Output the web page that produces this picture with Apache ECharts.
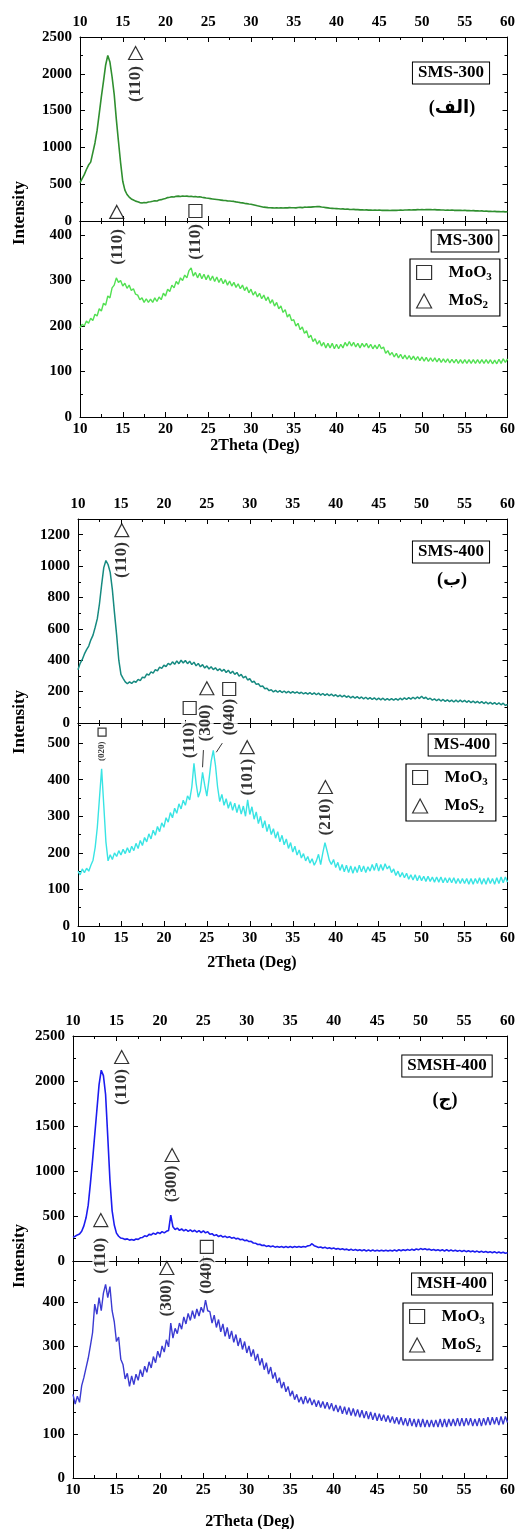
<!DOCTYPE html>
<html><head><meta charset="utf-8">
<script src="https://cdn.jsdelivr.net/npm/echarts@6/dist/echarts.min.js"></script>
<style>html,body{margin:0;padding:0;background:#fff}#c{width:518px;height:1529px}</style>
</head><body><div id="c"></div>
<script>
// ---------- DATA (2Theta from 10 to 60 deg, 0.25 deg step) ----------
const X_MIN = 10, X_MAX = 60;
const xTickLabels = [10,15,20,25,30,35,40,45,50,55,60];

const sms300 = [
520,575,630,700,760,800,930,1060,1230,1460,1690,1900,2120,2250,2160,1960,1720,1380,1080,790,
540,420,360,325,300,285,270,262,250,245,252,248,258,262,268,275,272,285,290,300,
305,318,322,330,326,335,338,332,340,336,338,332,336,330,334,326,330,322,318,312,
308,304,300,296,292,288,284,280,278,274,272,268,266,260,255,250,246,240,236,230,
228,222,214,206,200,194,188,185,182,180,178,176,180,177,181,176,180,178,182,179,
181,178,183,185,182,188,186,190,188,192,194,197,195,190,186,182,178,174,172,170,
168,166,163,165,160,162,158,156,158,154,155,151,153,150,151,148,150,147,149,146,
148,145,147,144,146,143,146,144,145,146,148,147,150,149,151,150,152,151,154,152,
155,153,157,155,156,153,155,151,152,149,150,147,149,146,148,145,147,144,146,143,
145,141,143,139,141,137,139,135,137,133,135,131,133,129,131,127,129,125,127,124,
125];

const ms300 = [
196,204,200,211,206,217,212,226,222,238,233,250,246,266,262,284,290,306,296,300,
288,294,283,290,278,282,270,268,258,262,252,260,252,259,252,262,254,264,258,272,
266,281,276,290,284,298,292,306,300,312,306,322,328,310,318,306,316,304,314,302,
312,300,310,298,308,296,305,293,302,290,299,288,296,285,293,282,290,278,286,273,
281,268,276,264,272,260,268,256,264,250,258,244,252,238,244,230,236,220,226,212,
214,200,206,192,198,184,190,174,180,166,172,160,168,156,164,152,162,152,162,150,
160,150,160,152,164,156,166,156,164,154,162,152,162,154,162,152,160,150,158,150,
160,150,154,140,146,136,142,132,140,130,138,128,136,127,135,126,134,125,133,124,
132,123,131,122,130,122,130,121,129,120,128,120,128,119,127,119,127,118,126,118,
126,118,126,118,126,118,126,118,126,118,126,118,126,117,125,117,127,118,128,120,
128];

const sms400 = [
340,380,405,440,468,490,530,560,610,665,760,880,990,1035,1010,960,850,700,560,400,
310,285,262,250,262,252,266,260,278,270,292,288,312,305,326,318,340,332,356,348,
368,360,380,370,390,374,396,378,400,382,398,378,394,372,388,364,380,358,372,350,
364,344,358,340,352,334,346,330,342,322,336,316,330,310,322,298,310,288,298,274,
282,260,266,246,250,232,236,218,222,206,212,198,208,196,206,194,204,192,202,190,
200,190,198,188,196,186,194,184,194,182,192,180,190,178,188,176,186,174,184,172,
180,168,178,166,176,164,172,160,170,158,168,156,166,154,164,152,162,150,160,148,
158,148,158,146,156,146,156,146,156,146,158,148,160,150,162,152,164,154,166,156,
170,156,164,150,158,146,154,142,152,140,150,138,148,136,146,134,146,134,146,134,
144,132,142,130,140,128,138,126,136,124,134,122,132,120,130,118,128,116,126,112,
118];

const ms400 = [
150,140,156,146,158,150,166,180,215,270,350,430,330,230,178,195,182,200,190,206,
194,210,198,214,200,218,206,226,212,234,220,242,230,252,238,262,248,272,258,282,
270,296,284,310,296,322,308,334,320,344,330,356,345,380,445,390,352,370,420,385,
355,400,450,480,440,380,340,360,330,348,322,340,316,336,310,332,306,328,300,345,
305,326,292,312,280,300,268,288,258,278,250,266,240,258,230,248,222,238,212,228,
202,218,194,208,186,198,178,190,172,184,166,178,196,168,200,228,205,180,168,182,
160,174,152,168,148,166,146,164,144,162,146,166,148,164,146,162,150,168,152,172,
150,168,152,170,156,164,146,156,138,150,134,146,132,144,128,140,126,140,124,138,
124,136,122,136,122,134,120,134,120,134,118,132,118,132,118,132,116,130,116,130,
116,130,114,130,114,130,116,132,114,130,114,132,116,130,114,132,116,134,118,134,
120];

const smsh400 = [
262,275,290,300,330,390,480,620,860,1120,1400,1680,1960,2120,2060,1850,1380,900,560,400,
310,275,255,250,240,246,232,240,230,244,240,258,262,280,272,296,290,310,296,318,
305,326,312,330,340,510,380,350,366,340,356,334,350,330,346,326,342,320,338,316,
334,312,326,296,304,282,292,272,284,266,276,260,270,254,262,246,252,236,242,226,
232,216,218,200,198,184,186,172,176,162,170,158,166,154,162,152,160,150,160,150,
160,150,160,152,162,152,162,156,168,172,192,170,160,150,156,144,152,140,148,136,
144,132,140,128,136,124,132,120,130,118,128,116,126,114,124,112,122,112,122,110,
120,110,120,110,120,110,120,112,122,112,124,114,126,116,128,118,130,120,134,124,
138,128,136,124,132,120,128,116,126,114,124,112,124,112,122,110,120,108,118,106,
116,104,114,102,112,100,110,98,108,96,106,94,104,92,102,90,100,88,98,86,
92];

const msh400 = [
190,168,186,172,210,228,250,272,300,330,395,372,410,380,420,440,410,435,380,355,
310,320,270,258,225,238,208,232,212,236,222,246,230,254,240,264,250,276,262,288,
274,300,286,314,298,352,318,340,328,352,338,366,350,374,358,380,362,384,368,388,
376,404,380,378,352,370,342,360,332,350,322,342,316,334,308,326,300,318,292,310,
284,300,276,292,266,282,256,272,246,262,236,252,226,240,216,228,204,218,196,208,
186,198,178,190,172,184,168,186,170,182,166,178,162,176,160,174,158,172,156,170,
152,166,150,164,146,162,144,160,142,158,140,156,138,154,136,152,134,150,132,148,
130,146,130,144,128,142,126,140,124,138,122,138,120,136,118,136,118,134,116,134,
116,134,116,132,116,132,116,132,116,134,116,134,116,134,118,134,118,136,118,136,
118,136,120,136,118,134,118,136,118,136,120,138,120,138,122,138,120,140,122,140,
126];

// peak annotations: [2theta, intensity, text]
const tri_SMS300 = [[16.5, 2283]];
const sq_SMS300  = [];
const txt_SMS300 = [[16.5, 1861, '(110)']];

const tri_MS300 = [[14.3, 451]];
const sq_MS300  = [[23.5, 453]];
const txt_MS300 = [[14.4, 374, '(110)'], [23.5, 385, '(110)']];

const tri_SMS400 = [[15.1, 1229]];
const sq_SMS400  = [];
const txt_SMS400 = [[15.1, 1038, '(110)']];

const tri_MS400 = [[25.0, 650], [29.7, 489], [38.8, 380]];
const sq_MS400  = [[12.8, 530, 'small'], [23.0, 596], [27.6, 648]];
const txt_MS400 = [[12.8, 478, '(020)', 'small'], [23.0, 508, '(110)'], [24.8, 555, '(300)'],
                   [27.6, 571, '(040)'], [29.7, 407, '(101)'], [38.8, 298, '(210)']];
const lead_MS400 = [[[24.6, 481], [24.5, 434]], [[26.8, 500], [26.1, 475]]];

const tri_SMSH400 = [[15.6, 2267], [21.4, 1178]];
const sq_SMSH400  = [];
const txt_SMSH400 = [[15.6, 1933, '(110)'], [21.4, 856, '(300)']];

const tri_MSH400 = [[13.2, 586], [20.8, 477]];
const sq_MSH400  = [[25.4, 525]];
const txt_MSH400 = [[13.2, 505, '(110)'], [20.8, 409, '(300)'], [25.4, 460, '(040)']];

// ---------- LAYOUT / STYLE ----------
const FONT = '"Liberation Serif", "Times New Roman", serif';
const grids = [
  {left: 80, top: 37,   width: 431, height: 184},
  {left: 80, top: 221,  width: 431, height: 196},
  {left: 78, top: 519,  width: 432, height: 204},
  {left: 78, top: 723,  width: 432, height: 203},
  {left: 73, top: 1036, width: 435, height: 225},
  {left: 73, top: 1261, width: 435, height: 217}
];
const plots = [
  {data: sms300,  color: '#2f8f2f', w: 1.6, yMax: 2500, yInt: 500, tri: tri_SMS300,  sq: sq_SMS300,  txt: txt_SMS300,  top: true},
  {data: ms300,   color: '#52e052', w: 1.4, yMax: 431,  yInt: 100, tri: tri_MS300,   sq: sq_MS300,   txt: txt_MS300,   top: false},
  {data: sms400,  color: '#168a80', w: 1.5, yMax: 1300, yInt: 200, tri: tri_SMS400,  sq: sq_SMS400,  txt: txt_SMS400,  top: true},
  {data: ms400,   color: '#38e4e4', w: 1.4, yMax: 555,  yInt: 100, tri: tri_MS400,   sq: sq_MS400,   txt: txt_MS400,   top: false, lead: lead_MS400},
  {data: smsh400, color: '#1c1cf0', w: 1.6, yMax: 2500, yInt: 500, tri: tri_SMSH400, sq: sq_SMSH400, txt: txt_SMSH400, top: true},
  {data: msh400,  color: '#3a3ad2', w: 1.4, yMax: 493,  yInt: 100, tri: tri_MSH400,  sq: sq_MSH400,  txt: txt_MSH400,  top: false}
];

const tickBase = {
  axisLine: {show: true, onZero: false, lineStyle: {color: '#000', width: 1}},
  axisTick: {show: true, inside: true, length: 5, lineStyle: {color: '#000', width: 1}},
  minorTick: {show: true, splitNumber: 2, length: 3, lineStyle: {color: '#000', width: 1}},
  splitLine: {show: false}
};
const lblStyle = {color: '#000', fontFamily: FONT, fontWeight: 'bold', fontSize: 15, formatter: v => String(v)};

const xAxes = [], yAxes = [], series = [];
plots.forEach((p, gi) => {
  xAxes.push(Object.assign({type: 'value', gridIndex: gi, position: 'bottom', min: X_MIN, max: X_MAX, interval: 5,
    axisLabel: Object.assign({show: !p.top, margin: 5}, lblStyle)}, tickBase));
  xAxes.push(Object.assign({type: 'value', gridIndex: gi, position: 'top', min: X_MIN, max: X_MAX, interval: 5,
    axisLabel: Object.assign({show: p.top, margin: 7}, lblStyle)}, tickBase));
  yAxes.push(Object.assign({type: 'value', gridIndex: gi, position: 'left', min: 0, max: p.yMax, interval: p.yInt,
    axisLabel: Object.assign({show: true, margin: 8, showMaxLabel: p.yMax % p.yInt === 0, showMinLabel: true}, lblStyle)}, tickBase));
  yAxes.push(Object.assign({type: 'value', gridIndex: gi, position: 'right', min: 0, max: p.yMax, interval: p.yInt,
    axisLabel: {show: false}}, tickBase));

  const n = p.data.length;
  series.push({
    type: 'line', xAxisIndex: gi * 2, yAxisIndex: gi * 2, animation: false, silent: true,
    data: p.data.map((v, i) => [X_MIN + i * (X_MAX - X_MIN) / (n - 1), v]),
    symbol: 'none', showSymbol: false, clip: true,
    lineStyle: {color: p.color, width: p.w}, itemStyle: {color: p.color}, z: 3
  });
  const markStyle = {color: '#fff', borderColor: '#000', borderWidth: 1.2};
  series.push({
    type: 'scatter', name: 'MoS2', xAxisIndex: gi * 2, yAxisIndex: gi * 2, animation: false, silent: true, clip: false,
    symbol: 'triangle', symbolSize: [14, 13], itemStyle: markStyle, z: 6,
    data: p.tri.map(t => [t[0], t[1]])
  });
  series.push({
    type: 'scatter', name: 'MoO3', xAxisIndex: gi * 2, yAxisIndex: gi * 2, animation: false, silent: true, clip: false,
    symbol: 'rect', symbolSize: 13, itemStyle: markStyle, z: 6,
    data: p.sq.map(t => ({value: [t[0], t[1]], symbolSize: t[2] === 'small' ? 8 : 13}))
  });
  series.push({
    type: 'scatter', xAxisIndex: gi * 2, yAxisIndex: gi * 2, animation: false, silent: true, clip: false,
    symbol: 'circle', symbolSize: 1, itemStyle: {color: 'rgba(0,0,0,0)'}, z: 5,
    label: {show: true, position: 'inside', rotate: 90, formatter: '{b}', color: '#000',
            fontFamily: FONT, fontWeight: 'bold', fontSize: 17, backgroundColor: '#fff', padding: [0, 1]},
    data: p.txt.map(t => ({value: [t[0], t[1]], name: t[2],
      label: t[3] === 'small' ? {fontSize: 9} : undefined}))
  });
  if (p.lead) {
    p.lead.forEach(seg => series.push({
      type: 'line', xAxisIndex: gi * 2, yAxisIndex: gi * 2, animation: false, silent: true, clip: false,
      symbol: 'none', data: seg, lineStyle: {color: '#000', width: 0.8}, z: 6
    }));
  }
});

function legendAt(left, top) {
  return {
    left, top, orient: 'vertical', selectedMode: false,
    data: [{name: 'MoO3', icon: 'rect'}, {name: 'MoS2', icon: 'triangle'}],
    itemWidth: 15, itemHeight: 14, itemGap: 10, padding: [5, 8, 5, 6],
    borderColor: '#000', borderWidth: 1.2, backgroundColor: '#fff',
    itemStyle: {color: '#fff', borderColor: '#000', borderWidth: 1.2},
    formatter: n => n === 'MoO3' ? '{m|MoO}{s|3}' : '{m|MoS}{s|2}',
    textStyle: {rich: {
      m: {fontFamily: FONT, fontWeight: 'bold', fontSize: 17, color: '#000', lineHeight: 20, padding: [0, 0, 0, 12], verticalAlign: 'middle'},
      s: {fontFamily: FONT, fontWeight: 'bold', fontSize: 11, color: '#000', lineHeight: 20, verticalAlign: 'bottom', padding: [6, 0, 0, 0]}
    }}
  };
}

function txt(x, y, text, size, opts) {
  return Object.assign({type: 'text', x, y, silent: true, z: 10,
    style: Object.assign({text, fill: '#000', align: 'center', verticalAlign: 'middle',
      font: 'bold ' + size + 'px ' + FONT}, (opts && opts.style) || {})}, (opts && opts.el) || {});
}
const boxStyle = {style: {borderColor: '#000', borderWidth: 1, padding: [3, 5, 1, 5], backgroundColor: '#fff'}};
const rot = {el: {rotation: Math.PI / 2}};
const arab = {style: {font: 'bold 18px "Liberation Serif", "DejaVu Sans", sans-serif'}};

const graphics = [
  txt(20, 213, 'Intensity', 17, rot),
  txt(255, 446, '2Theta (Deg)', 16),
  txt(451, 73, 'SMS-300', 17, boxStyle),
  txt(452, 108, '(الف)', 18, arab),
  txt(465, 241, 'MS-300', 17, boxStyle),

  txt(20, 722, 'Intensity', 17, rot),
  txt(252, 963, '2Theta (Deg)', 16),
  txt(451, 552, 'SMS-400', 17, boxStyle),
  txt(452, 580, '(ب)', 18, arab),
  txt(462, 745, 'MS-400', 17, boxStyle),

  txt(20, 1256, 'Intensity', 17, rot),
  txt(250, 1522, '2Theta (Deg)', 16),
  txt(447, 1066, 'SMSH-400', 17, boxStyle),
  txt(445, 1100, '(ج)', 18, arab),
  txt(452, 1284, 'MSH-400', 17, boxStyle)
];

const chart = echarts.init(document.getElementById('c'), null, {renderer: 'canvas'});
chart.setOption({
  backgroundColor: '#fff',
  animation: false,
  grid: grids,
  xAxis: xAxes,
  yAxis: yAxes,
  series,
  legend: [legendAt(410, 259), legendAt(406, 764), legendAt(403, 1303)],
  graphic: graphics
});
</script>
</body></html>
